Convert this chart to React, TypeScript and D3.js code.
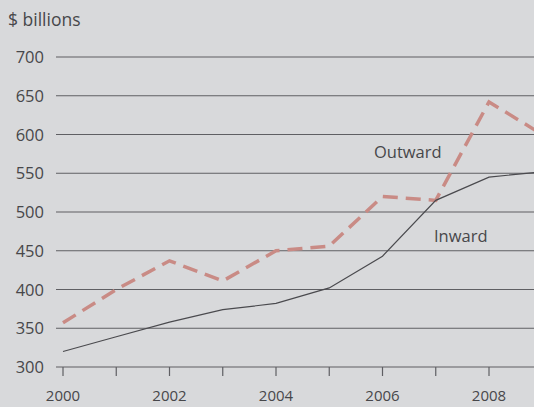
import React from "react";
import * as d3 from "d3";

const years = [2000, 2001, 2002, 2003, 2004, 2005, 2006, 2007, 2008, 2009];
const inward = [320, 339, 358, 374, 382, 402, 443, 515, 545, 552];
const outward = [357, 400, 437, 411, 450, 456, 520, 515, 642, 600];
const yTicks = [300, 350, 400, 450, 500, 550, 600, 650, 700];
const xTickYears = [2000, 2001, 2002, 2003, 2004, 2005, 2006, 2007, 2008];
const xLabelYears = [2000, 2002, 2004, 2006, 2008];

const W = 534;
const H = 407;

export default function App() {
  const x = d3.scaleLinear().domain([2000, 2008]).range([63, 489]);
  const y = d3.scaleLinear().domain([300, 700]).range([367, 57]);
  const line = d3
    .line<number>()
    .x((_, i) => x(years[i]))
    .y((d) => y(d));
  const font = "'Open Sans', 'DejaVu Sans', sans-serif";
  const textColor = "#47474a";
  return (
    <svg
      width={W}
      height={H}
      style={{ position: "absolute", left: 0, top: 0, background: "#d8d9db" }}
    >
      <defs>
        <clipPath id="clip">
          <rect x={0} y={0} width={W} height={H} />
        </clipPath>
      </defs>
      <text x={8} y={26} fontFamily={font} fontSize={17.5} fill={textColor}>
        $ billions
      </text>
      {yTicks.map((t) => (
        <g key={t}>
          <line x1={56} x2={W} y1={y(t)} y2={y(t)} stroke="#5f5f63" strokeWidth={1.2} />
          <text
            x={44}
            y={y(t) + 6}
            textAnchor="end"
            fontFamily={font}
            fontSize={16.5}
            fill={textColor}
          >
            {t}
          </text>
        </g>
      ))}
      {xTickYears.map((yr) => (
        <line
          key={yr}
          x1={x(yr)}
          x2={x(yr)}
          y1={y(300)}
          y2={y(300) + 9}
          stroke="#5f5f63"
          strokeWidth={1.2}
        />
      ))}
      {xLabelYears.map((yr) => (
        <text
          key={yr}
          x={x(yr)}
          y={401}
          textAnchor="middle"
          fontFamily={font}
          fontSize={15}
          fill={textColor}
        >
          {yr}
        </text>
      ))}
      <g clipPath="url(#clip)">
        <path
          d={line(outward) || ""}
          fill="none"
          stroke="#c98b85"
          strokeWidth={3.5}
          strokeDasharray="15 8"
        />
        <path d={line(inward) || ""} fill="none" stroke="#4a4a4e" strokeWidth={1.2} />
      </g>
      <text x={374} y={158} fontFamily={font} fontSize={16.5} fill={textColor}>
        Outward
      </text>
      <text x={434} y={242} fontFamily={font} fontSize={16.5} fill={textColor}>
        Inward
      </text>
    </svg>
  );
}
